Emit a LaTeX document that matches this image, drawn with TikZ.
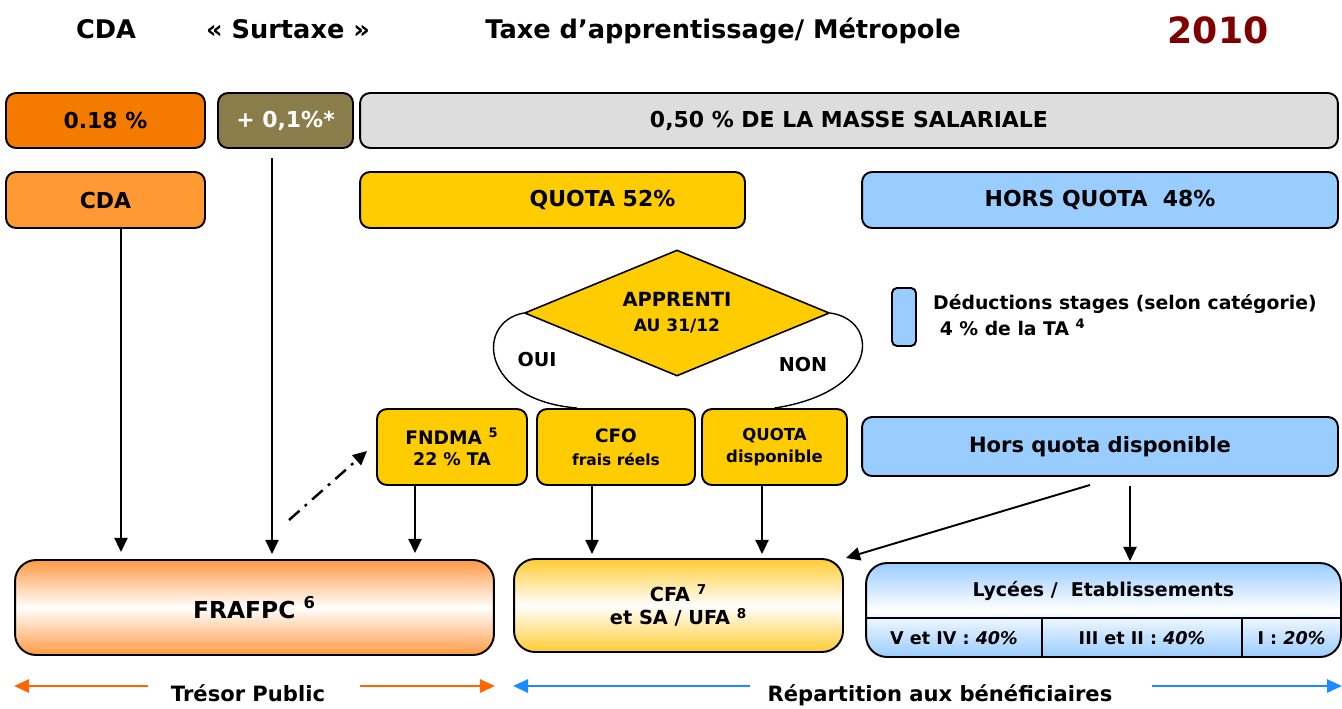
\documentclass[tikz,border=0pt]{standalone}
\usepackage{fontspec}
\setmainfont{DejaVu Sans}
\usetikzlibrary{arrows.meta,shapes.geometric}

\definecolor{orangeA}{HTML}{F47B00}
\definecolor{orangeB}{HTML}{FF9933}
\definecolor{surtaxe}{HTML}{8B7D4B}
\definecolor{masse}{HTML}{DDDDDD}
\definecolor{quotay}{HTML}{FFCC00}
\definecolor{bleu}{HTML}{99CCFF}
\definecolor{orgrad}{HTML}{FF9A44}
\definecolor{cfagrad}{HTML}{FFCC33}
\definecolor{annee}{HTML}{800000}
\definecolor{orfleche}{HTML}{FF6600}
\definecolor{bleufleche}{HTML}{1A8CFF}

\newcommand{\fsz}[2]{\fontsize{#1}{#2}\selectfont}

\begin{document}
\begin{tikzpicture}[x=0.02cm, y=-0.02cm,
		box/.style={draw, line width=1.1pt, rounded corners=0.2cm, inner sep=0pt, align=center, font=\bfseries\fsz{12.5}{15}},
		bigbox/.style={box, rounded corners=0.42cm},
		title/.style={anchor=base, font=\bfseries\fsz{14.6}{17}},
		lbl/.style={font=\bfseries\fsz{12}{14}},
		cell/.style={font=\bfseries\fsz{10}{12}},
		arr/.style={line width=1.1pt, -{Triangle[length=8pt, width=7.5pt]}},
		oarr/.style={line width=1.3pt, orfleche, -{Triangle[length=8.5pt, width=7.5pt]}},
		barr/.style={line width=1.3pt, bleufleche, -{Triangle[length=8.5pt, width=7.5pt]}}]
		\useasboundingbox (0, 0) rectangle (1342, 708);

		% titres
		\node[title] at (106, 38) (tcda) {CDA};
		\node[title] at (288, 38) (tsur) {«~Surtaxe~»};
		\node[title] at (723, 38) (ttaxe) {Taxe d’apprentissage/ Métropole};
		\node[title, text=annee, font=\bfseries\fsz{20.6}{24}] at (1218, 43) (tannee) {2010};

		% lignes 1 et 2
		\node[box, fill=orangeA, minimum width=3.98cm, minimum height=1.1cm] at (105.5, 120.5) (pct) {0.18 \%};
		\node[box, fill=surtaxe, text=white, minimum width=2.7cm, minimum height=1.1cm] at (285.5, 120.5) (sur) {+ 0,1\%*};
		\node[box, fill=masse, minimum width=19.56cm, minimum height=1.1cm] at (849, 120.5) (masse) {0,50 \% DE LA MASSE SALARIALE};
		\node[box, fill=orangeB, minimum width=3.98cm, minimum height=1.12cm] at (105.5, 200) (cda) {CDA};
		\node[box, fill=quotay, minimum width=7.7cm, minimum height=1.12cm] at (552.5, 200) (quota) {\hspace*{2cm}QUOTA 52\%};
		\node[box, fill=bleu, minimum width=9.52cm, minimum height=1.12cm] at (1100, 200) (hors) {HORS QUOTA~~48\%};

		% choix apprenti
		\node[diamond, aspect=2.42, draw, line width=0.9pt, fill=quotay, minimum width=6.1cm, minimum height=2.52cm, inner sep=0pt, align=center, font=\bfseries\fsz{11.1}{14.2}] at (677, 313) (appr) {APPRENTI\\\fsz{9.7}{14.2}AU 31/12};
		\node[font=\bfseries\fsz{10.9}{13}] at (537, 360) (oui) {OUI};
		\node[font=\bfseries\fsz{10.9}{13}] at (803, 365) (non) {NON};

		\node[draw, line width=1.1pt, rounded corners=0.1cm, fill=bleu, minimum width=0.48cm, minimum height=1.16cm, inner sep=0pt] at (904, 317) (stage) {};
		\node[anchor=west, align=left, font=\bfseries\fsz{10.7}{14.8}] at (927, 315) (deduc) {Déductions stages (selon catégorie)\\\ 4 \% de la TA~\textsuperscript{4}};

		% ligne 3
		\node[box, fill=quotay, minimum width=3cm, minimum height=1.52cm, font=\bfseries\fsz{10.6}{12}] at (452, 447) (fndma) {FNDMA~\textsuperscript{5}\\\fsz{9.9}{12}22 \% TA};
		\node[box, fill=quotay, minimum width=3.16cm, minimum height=1.52cm, font=\bfseries\fsz{10.5}{13}] at (616, 447) (cfo) {CFO\\\fsz{8.8}{13}frais réels};
		\node[box, fill=quotay, minimum width=2.9cm, minimum height=1.52cm, font=\bfseries\fsz{9.4}{13}] at (774.5, 447) (qdisp) {QUOTA\\disponible};
		\node[box, fill=bleu, minimum width=9.52cm, minimum height=1.18cm, font=\bfseries\fsz{12}{14}] at (1100, 446.5) (hqd) {Hors quota disponible};

		\draw[line width=0.8pt] (appr.west) .. controls (475, 322) and (480, 400) .. (cfo.135);
		\draw[line width=0.8pt] (appr.east) .. controls (880, 320) and (880, 392) .. (qdisp.north);

		% ligne 4
		\node[bigbox, top color=orgrad, bottom color=orgrad, middle color=white, minimum width=9.58cm, minimum height=1.9cm, font=\bfseries\fsz{13.3}{16}] at (254.5, 607.5) (frafpc) {FRAFPC~\textsuperscript{6}};
		\node[bigbox, top color=cfagrad, bottom color=cfagrad, middle color=white, minimum width=6.58cm, minimum height=1.86cm, font=\bfseries\fsz{11}{13.6}] at (678.5, 605.5) (cfa) {CFA~\textsuperscript{7}\\et SA / UFA~\textsuperscript{8}};
		\node[bigbox, top color=bleu, bottom color=bleu, middle color=white, minimum width=9.5cm, minimum height=1.88cm] at (1103.5, 610) (lyc) {};
		\draw[line width=1.1pt] ([yshift=-0.16cm]lyc.west) -- ([yshift=-0.16cm]lyc.east);
		\draw[line width=1.1pt] ([xshift=-1.23cm]lyc.south) -- ++(0, -39);
		\draw[line width=1.1pt] ([xshift=2.77cm]lyc.south) -- ++(0, -39);
		\node[font=\bfseries\fsz{10.8}{13}] at (1103.5, 591) (lyct) {Lycées /~~Etablissements};
		\node[cell] at (954, 638) (niv1) {V et IV : \textit{40\%}};
		\node[cell] at (1142, 638) (niv2) {III et II : \textit{40\%}};
		\node[cell] at (1291.5, 638) (niv3) {I : \textit{20\%}};

		% fleches
		\draw[arr] ([xshift=0.31cm]cda.south) -- ++(0, 323);
		\draw[arr] ([xshift=-0.27cm, yshift=-0.18cm]sur.south) -- ++(0, 396);
		\draw[arr] ([xshift=-0.74cm]fndma.south) -- ++(0, 67);
		\draw[arr] ([xshift=-0.48cm]cfo.south) -- ++(0, 68);
		\draw[arr] ([xshift=-0.25cm]qdisp.south) -- ++(0, 68);
		\draw[arr] ([xshift=-0.2cm, yshift=-0.16cm]hqd.south) -- ++(-244, 73);
		\draw[arr] ([xshift=0.6cm, yshift=-0.18cm]hqd.south) -- ++(0, 75);
		\coordinate (dd) at (289, 520);
		\draw[arr, line width=1.4pt, dash pattern=on 8pt off 4pt on 1.6pt off 4pt] (dd) -- ([xshift=-0.18cm, yshift=0.7cm]fndma.south west);

		% bas
		\node[lbl] at (248, 693) (tresor) {Trésor Public};
		\node[lbl] at (940, 695) (repart) {Répartition aux bénéficiaires};
		\draw[oarr] (148, 686) -- (frafpc.south west |- 0, 686);
		\draw[oarr] (360, 686) -- (frafpc.south east |- 0, 686);
		\draw[barr] (750, 686) -- (cfa.south west |- 0, 686);
		\draw[barr] (1152, 686) -- (lyc.south east |- 0, 686);
	\end{tikzpicture}
\end{document}
